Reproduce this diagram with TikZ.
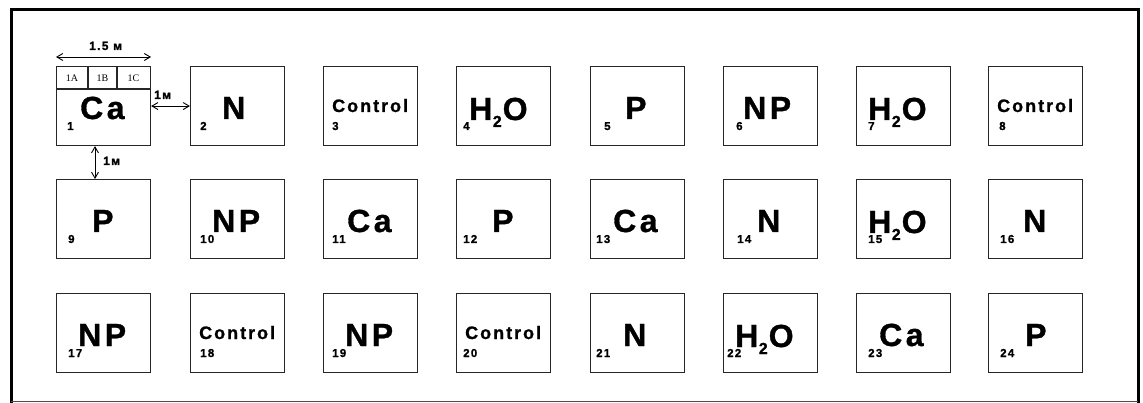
\documentclass[tikz,border=0pt]{standalone}
\usepackage{fontspec}
\setmainfont{Liberation Sans}
\newfontfamily\labfont{Liberation Sans Bold}[LetterSpace=11, FakeBold=1]
\newfontfamily\serfont{Liberation Serif}
\usetikzlibrary{arrows.meta}
\newcommand{\BigTxt}{\labfont\fontsize{32}{32}\selectfont}
\newcommand{\CtlTxt}{\labfont\fontsize{18}{18}\selectfont}
\newcommand{\NumTxt}{\labfont\fontsize{11.5}{11.5}\selectfont}
\newcommand{\DimTxt}{\labfont\fontsize{12}{12}\selectfont}
\newcommand{\SubTxt}{\serfont\fontsize{10}{10}\selectfont}
\newcommand{\HtwoO}{H\kern0.5pt\raisebox{-7pt}{\fontsize{16}{16}\selectfont 2}\kern1pt O}
\tikzset{
  plot/.style={draw=black!85, line width=1.1pt, minimum width=94pt, minimum height=79pt, inner sep=0pt, anchor=north west},
  bigl/.style={anchor=base west, inner sep=0pt, font=\BigTxt},
  ctl/.style={anchor=base west, inner sep=0pt, font=\CtlTxt},
  num/.style={anchor=base west, inner sep=0pt, font=\NumTxt},
  dimlbl/.style={anchor=base west, inner sep=0pt, font=\DimTxt},
  sublbl/.style={inner sep=0pt, font=\SubTxt},
  subline/.style={draw=black!85, line width=1.1pt},
  dimarrow/.style={{Straight Barb[length=6pt,width=7pt]}-{Straight Barb[length=6pt,width=7pt]}, line width=0.9pt}
}
\begin{document}
\begin{tikzpicture}[x=1pt,y=-1pt]
\useasboundingbox (0,0) rectangle (1143,403);
% frame
\draw[line width=3pt] (11,403) -- (11,9.5) -- (1138,9.5) -- (1138,403);
\draw[line width=1.5pt, black!70] (11,401.5) -- (1138,401.5);
% plots
\foreach \n/\x/\y in {1/56/66, 2/190/66, 3/323/66, 4/456/66, 5/590/66, 6/723/66, 7/856/66, 8/988/66,
  9/56/179, 10/190/179, 11/323/179, 12/456/179, 13/590/179, 14/723/179, 15/856/179, 16/988/179,
  17/56/293, 18/190/293, 19/323/293, 20/456/293, 21/590/293, 22/723/293, 23/856/293, 24/988/293}
  \node[plot] (b\n) at (\x,\y) {};
% subplots of plot 1
\draw[subline] (56,89) -- (150,89);
\draw[subline] (88,66) -- (88,89);
\draw[subline] (117,66) -- (117,89);
\node[sublbl] (s1a) at (72,78) {1A};
\node[sublbl] (s1b) at (102.5,78) {1B};
\node[sublbl] (s1c) at (133.5,78) {1C};
% big labels
\foreach \n/\t/\lx/\y in {1/Ca/80/66, 2/N/222/66, 5/P/625/66, 6/NP/743/66,
  9/P/92/179, 10/NP/212/179, 11/Ca/347/179, 12/P/492/179, 13/Ca/613/179, 14/N/757/179, 16/N/1023/179,
  17/NP/78/293, 19/NP/345/293, 21/N/623/293, 23/Ca/879/293, 24/P/1025/293}
  \node[bigl] (l\n) at (\lx,\y+53) {\t};
\foreach \n/\lx/\y in {4/469/66, 7/868/66, 15/868/179, 22/735/293}
  \node[bigl] (l\n) at (\lx,\y+54) {\HtwoO};
\foreach \n/\lx/\y in {3/332/66, 8/997/66, 18/199/293, 20/465/293}
  \node[ctl] (l\n) at (\lx,\y+46) {Control};
% numbers
\foreach \n/\nx/\y in {1/67/66, 2/200/66, 3/332/66, 4/463/66, 5/604/66, 6/736/66, 7/868/66, 8/999/66,
  9/68/179, 10/200/179, 11/332/179, 12/463/179, 13/596/179, 14/737/179, 15/868/179, 16/1000/179,
  17/68/293, 18/200/293, 19/332/293, 20/463/293, 21/596/293, 22/727/293, 23/868/293, 24/1000/293}
  \node[num] (n\n) at (\nx,\y+64) {\n};
% dimensions
\coordinate (vx) at (95,0);
\draw[dimarrow] ([yshift=9pt]b1.north west) -- ([yshift=9pt]b1.north east);
\node[dimlbl] (d15) at (89,50) {1.5 м};
\draw[dimarrow] (b1.east) -- (b2.west);
\node[dimlbl] (d1h) at (154,99) {1м};
\draw[dimarrow] (b1.south -| vx) -- (b9.north -| vx);
\node[dimlbl] (d1v) at (103,165) {1м};
\end{tikzpicture}
\end{document}
